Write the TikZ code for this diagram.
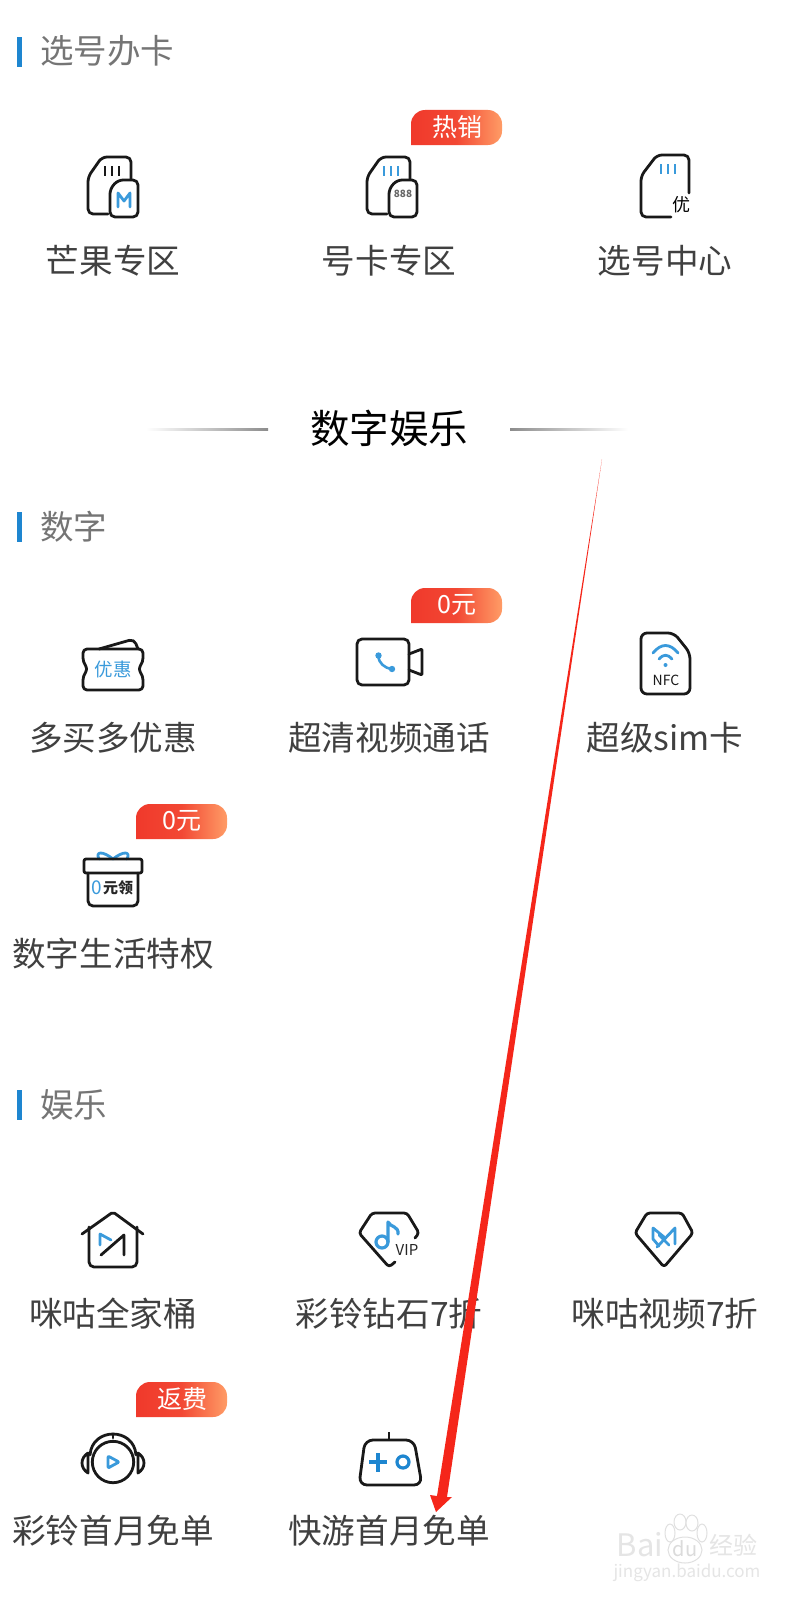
\documentclass[tikz,border=0pt]{standalone}
\usepackage{fontspec}
\setmainfont{Noto Sans CJK SC}
\definecolor{labelgray}{HTML}{404040}
\definecolor{sectiongray}{HTML}{757575}
\definecolor{barblue}{HTML}{1E86D0}
\definecolor{iconblue}{HTML}{3A9ADB}
\definecolor{badgered}{HTML}{F0392B}
\definecolor{badgeorange}{HTML}{FF9C66}
\definecolor{arrowred}{HTML}{F5261A}

\begin{document}
\begin{tikzpicture}[
            x=1pt, y=-1pt,
            item/.style={text=labelgray, inner sep=0pt, font=\fontsize{33.6}{36}\selectfont},
            section/.style={text=sectiongray, anchor=west, inner sep=0pt, font=\fontsize{33.5}{36}\selectfont},
            bar/.style={fill=barblue},
            tagtext/.style={text=white, inner sep=0pt, font=\fontsize{25}{28}\selectfont},
            iconline/.style={draw=black!90, line width=2.8pt, rounded corners=5pt, line cap=round, line join=round},
            plainline/.style={draw=black!90, line width=2.8pt, line cap=round, line join=round},
            iconmark/.style={draw=iconblue, line width=2.8pt, line cap=round, line join=round},
            icontext/.style={inner sep=0pt, font=\bfseries\fontsize{16}{18}\selectfont},
            pale/.style={draw=black!12, fill=white, line width=1pt}
        ]
        \useasboundingbox (0,0) rectangle (802,1600);
        \fill[white] (0,0) rectangle (802,1600);

        % Section bars
        \foreach \yy in {37,512,1090} {
            \fill[bar] (17,\yy) rectangle (22,\yy+30);
        }

        % Section headings
        \node[section] (sectioncard) at (40,51) {选号办卡};
        \node[section] (sectiondigit) at (40,527) {数字};
        \node[section] (sectionfun) at (40,1105) {娱乐};

        % Heading with fading lines
        \node[inner sep=0pt, text=black, font=\fontsize{39.5}{42}\selectfont] (maintitle) at (389,428) {数字娱乐};
        \shade[left color=white, right color=black!45] (146,428) rectangle (268,430);
        \shade[left color=black!45, right color=white] (510,428) rectangle (628,430);

        % Item labels
        \node[item] (mango) at (113,261) {芒果专区};
        \node[item] (numbercard) at (389,261) {号卡专区};
        \node[item] (pickcenter) at (665,261) {选号中心};
        \node[item] (buymore) at (113,738) {多买多优惠};
        \node[item] (videocall) at (389,738) {超清视频通话};
        \node[item] (supersim) at (665,738) {超级sim卡};
        \node[item] (digitlife) at (113,954) {数字生活特权};
        \node[item] (familypack) at (113,1314) {咪咕全家桶};
        \node[item] (ringdiamond) at (389,1314) {彩铃钻石7折};
        \node[item] (miguvideo) at (665,1314) {咪咕视频7折};
        \node[item] (ringmonth) at (113,1531) {彩铃首月免单};
        \node[item] (gamemonth) at (389,1531) {快游首月免单};

        % Badges
        \foreach \bx/\by/\btext/\bname in {411/110/热销/taghot, 411/588/0元/tagvideo, 136/804/0元/taglife, 136/1382/返费/tagring} {
            \shade[left color=badgered, right color=badgeorange, middle color=badgered!85!badgeorange]
                (\bx,\by+35) -- (\bx,\by+16) [rounded corners=14pt] -- (\bx,\by) -- (\bx+91,\by) -- (\bx+91,\by+35) [sharp corners] -- (\bx+30,\by+35) -- cycle;
            \node[tagtext] (\bname) at (\bx+46,\by+17) {\btext};
        }

        % Mango SIM
        \begin{scope}[shift={(88,157)}]
            \draw[iconline] (20,57) -- (0,57) -- (0,20) -- (14,0) -- (43,0) -- (43,22);
            \draw[iconline] (22,60) -- (22,32) -- (30,23) -- (50,23) -- (50,60) -- cycle;
            \foreach \tx in {17,24,31} { \draw[draw=black!90, line width=2.4pt] (\tx,9) -- (\tx,19); }
            \draw[iconmark] (30,50) -- (30,36) -- (36,44) -- (42,36) -- (42,50);
        \end{scope}

        % Number SIM
        \begin{scope}[shift={(367,157)}]
            \draw[iconline] (20,57) -- (0,57) -- (0,20) -- (14,0) -- (43,0) -- (43,22);
            \draw[iconline] (22,60) -- (22,32) -- (30,23) -- (50,23) -- (50,60) -- cycle;
            \foreach \tx in {17,24,31} { \draw[draw=iconblue, line width=2.4pt] (\tx,9) -- (\tx,19); }
            \node[icontext, text=black!60, font=\bfseries\fontsize{10}{12}\selectfont] (digits888) at (36,37) {888};
        \end{scope}

        % Pick SIM
        \begin{scope}[shift={(641,155)}]
            \draw[iconline] (30,62) -- (0,62) -- (0,21) -- (16,0) -- (48,0) -- (48,38);
            \foreach \tx in {20,27,34} { \draw[draw=iconblue, line width=2.4pt] (\tx,9) -- (\tx,19); }
            \node[icontext, text=black, font=\fontsize{18}{19}\selectfont] (pickmark) at (40,50) {优};
        \end{scope}

        % Ticket
        \begin{scope}[shift={(82,638)}]
            \draw[iconline] (17,11) -- (52,1) -- (56,11);
            \draw[iconline, rounded corners=4pt] (1,11) -- (61,11) -- (61,24) -- (56,31) -- (61,38) -- (61,52) -- (1,52) -- (1,38) -- (6,31) -- (1,24) -- cycle;
            \node[icontext, text=iconblue, font=\fontsize{18.5}{20}\selectfont] (ticketmark) at (31,31) {优惠};
        \end{scope}

        % Video call
        \begin{scope}[shift={(357,639)}]
            \draw[iconline] (0,0) rectangle (52,46);
            \draw[iconline, rounded corners=1pt] (52,15) -- (65,10) -- (65,36) -- (52,31);
            \draw[iconmark, line width=2.6pt] (21,17) .. controls (22,24) and (27,29) .. (35,30);
            \fill[iconblue] (21.5,16.5) circle (3.2pt);
            \fill[iconblue] (35,30) circle (3.2pt);
        \end{scope}

        % NFC card
        \begin{scope}[shift={(641,633)}]
            \draw[iconline, rounded corners=6pt] (0,0) -- (33,0) -- (49,20) -- (49,61) -- (0,61) -- cycle;
            \draw[iconmark] (12,20) .. controls (20,10) and (29,10) .. (37,20);
            \draw[iconmark] (18,26) .. controls (22,21) and (27,21) .. (31,26);
            \fill[iconblue] (24.5,32) circle (2pt);
            \node[icontext, text=black!90, font=\fontsize{14}{16}\selectfont] (nfcmark) at (25,47) {NFC};
        \end{scope}

        % Gift box
        \begin{scope}[shift={(83,851)}]
            \draw[iconmark] (30,8) .. controls (20,0) and (12,0) .. (16,8);
            \draw[iconmark] (30,8) .. controls (40,0) and (48,0) .. (44,8);
            \draw[iconline, rounded corners=2pt] (1,8) rectangle (59,22);
            \draw[iconline] (5,22) -- (5,55) -- (55,55) -- (55,22);
            \node[icontext, text=iconblue, anchor=west, font=\fontsize{19}{20}\selectfont] (giftzero) at (8,37) {0};
            \node[icontext, text=black!85, anchor=west, font=\bfseries\fontsize{15}{18}\selectfont] (giftmark) at (20,37) {元领};
        \end{scope}

        % House
        \begin{scope}[shift={(82,1211)}]
            \draw[iconline, rounded corners=2pt] (0,23) -- (31,1) -- (61,23);
            \draw[iconline] (7,16) -- (7,56) -- (55,56) -- (55,16);
            \draw[plainline] (19,44) -- (42,24) -- (42,44);
            \draw[iconmark] (18,34) -- (18,23) -- (29,29);
        \end{scope}

        % Diamond with note
        \begin{scope}[shift={(359,1211)}]
            \draw[iconline, rounded corners=3pt] (36,51) -- (30,56) -- (0,22) -- (13,2) -- (48,2) -- (60,22) -- (56,27);
            \draw[iconmark, line width=3.2pt] (29,31) -- (29,11) .. controls (31,16) and (40,15) .. (39,23);
            \draw[iconmark, line width=3.2pt] (23,31) circle (6pt);
            \node[icontext, text=black!85, font=\fontsize{15}{16}\selectfont] (vipmark) at (48,39) {VIP};
        \end{scope}

        % Diamond with M
        \begin{scope}[shift={(635,1211)}]
            \draw[iconline, rounded corners=3pt] (29,56) -- (0,22) -- (12,2) -- (47,2) -- (58,22) -- cycle;
            \draw[iconmark] (29,26) -- (18,17) -- (18,28) -- (24,35);
            \draw[iconmark] (22,36) -- (40,17) -- (40,33);
            \draw[iconmark] (24,24) -- (34,34);
        \end{scope}

        % Headphones
        \begin{scope}[shift={(82,1432)}]
            \draw[plainline] (31,30) circle (20.7pt);
            \draw[plainline] (8,23) .. controls (10,-5) and (52,-5) .. (54,23);
            \draw[plainline] (31,2) -- (31,6);
            \draw[plainline] (6,21) .. controls (-2,26) and (-2,36) .. (6,41) -- cycle;
            \draw[plainline] (56,21) .. controls (64,26) and (64,36) .. (56,41) -- cycle;
            \draw[iconmark, rounded corners=1pt] (26,24) -- (26,36) -- (37,30) -- cycle;
        \end{scope}

        % Game pad
        \begin{scope}[shift={(359,1432)}]
            \draw[draw=black!90, line width=2.2pt] (30,0) -- (30,7);
            \draw[iconline, rounded corners=8pt] (6,8) -- (55,8) -- (63,53) -- (0,53) -- cycle;
            \draw[draw=barblue, line width=3.6pt] (19,21) -- (19,40);
            \draw[draw=barblue, line width=3.6pt] (10,30) -- (28,30);
            \draw[draw=barblue, line width=3.2pt] (44,30) circle (6pt);
        \end{scope}

        % Baidu watermark
        \node[inner sep=0pt, text=black!10, font=\fontsize{31}{34}\selectfont] (bai) at (640,1545) {Bai};
        \foreach \px/\py/\prx/\pry in {670/1533/5/9, 680/1522/6/8, 692/1523/6/8, 702/1533/5/9} {
            \draw[pale] (\px,\py) ellipse (\prx pt and \pry pt);
        }
        \draw[pale] (685,1550) ellipse (17pt and 13pt);
        \node[inner sep=0pt, text=black!14, font=\fontsize{20}{22}\selectfont] (du) at (685,1549) {du};
        \node[inner sep=0pt, text=black!10, font=\fontsize{24}{26}\selectfont] (jingyan) at (733,1545) {经验};
        \node[inner sep=0pt, text=black!10, font=\fontsize{17}{20}\selectfont] (website) at (687,1573) {jingyan.baidu.com};

        % Red hand drawn arrow
        \coordinate (arrowstart) at (602,459);
        \coordinate (arrowtip) at (436,1512);
        \fill[arrowred] (arrowstart) -- (447,1497) -- (452,1497) -- (arrowtip) -- (430,1495) -- (437,1496) -- cycle;

    \end{tikzpicture}
\end{document}
